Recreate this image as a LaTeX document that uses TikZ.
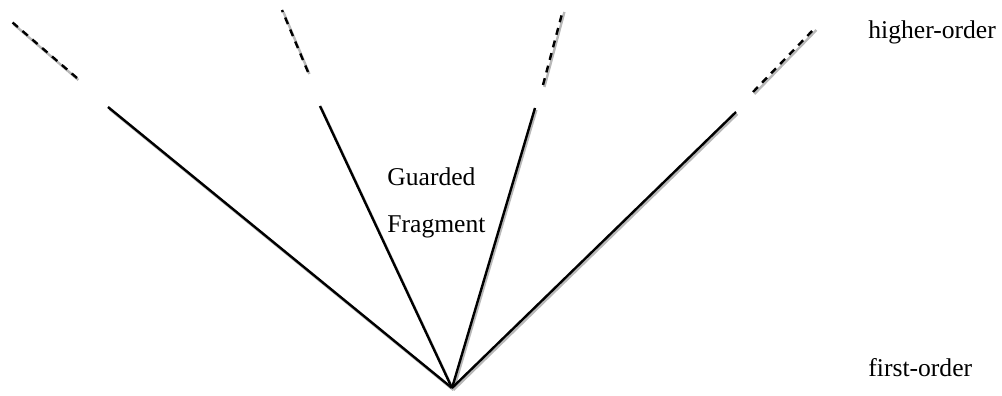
\documentclass[tikz,border=0pt]{standalone}
\usepackage{fontspec}
\setmainfont{Liberation Serif}
\usepackage{tikz}

\tikzset{
  ray/.style={line width=1.2pt, preaction={draw=black!28, line width=1.2pt, transform canvas={shift={(0.7pt,-1pt)}}}},
  rayext/.style={ray, dash pattern=on 3.5pt off 3pt},
  lbl/.style={anchor=base west, inner sep=0pt, font=\fontsize{12.8}{14}\selectfont}
}

\begin{document}
\begin{tikzpicture}[x=0.5pt,y=-0.5pt]
    \useasboundingbox (0,0) rectangle (1002,396);

    \coordinate (apex) at (452,388);
    % ends of the solid rays
    \coordinate (a1) at (108,107);
    \coordinate (a2) at (320,106);
    \coordinate (a3) at (535,108);
    \coordinate (a4) at (736,112);
    % dashed continuations
    \coordinate (b1) at (77,78);   \coordinate (c1) at (12,22);
    \coordinate (b2) at (308,72);  \coordinate (c2) at (282,10);
    \coordinate (b3) at (543,85);  \coordinate (c3) at (563,10);
    \coordinate (b4) at (753,92);  \coordinate (c4) at (815,28);

    \draw[ray] (apex) -- (a1);
    \draw[ray] (apex) -- (a2);
    \draw[ray] (apex) -- (a3);
    \draw[ray] (apex) -- (a4);

    \draw[rayext] (b1) -- (c1);
    \draw[rayext] (b2) -- (c2);
    \draw[rayext] (b3) -- (c3);
    \draw[rayext] (b4) -- (c4);

    \node[lbl] (guarded) at (387,185) {Guarded};
    \node[lbl] (fragment) at (387,232) {Fragment};
    \node[lbl] (higher) at (868,39) {higher-order};
    \node[lbl] (first) at (868,376) {first-order};
\end{tikzpicture}
\end{document}
